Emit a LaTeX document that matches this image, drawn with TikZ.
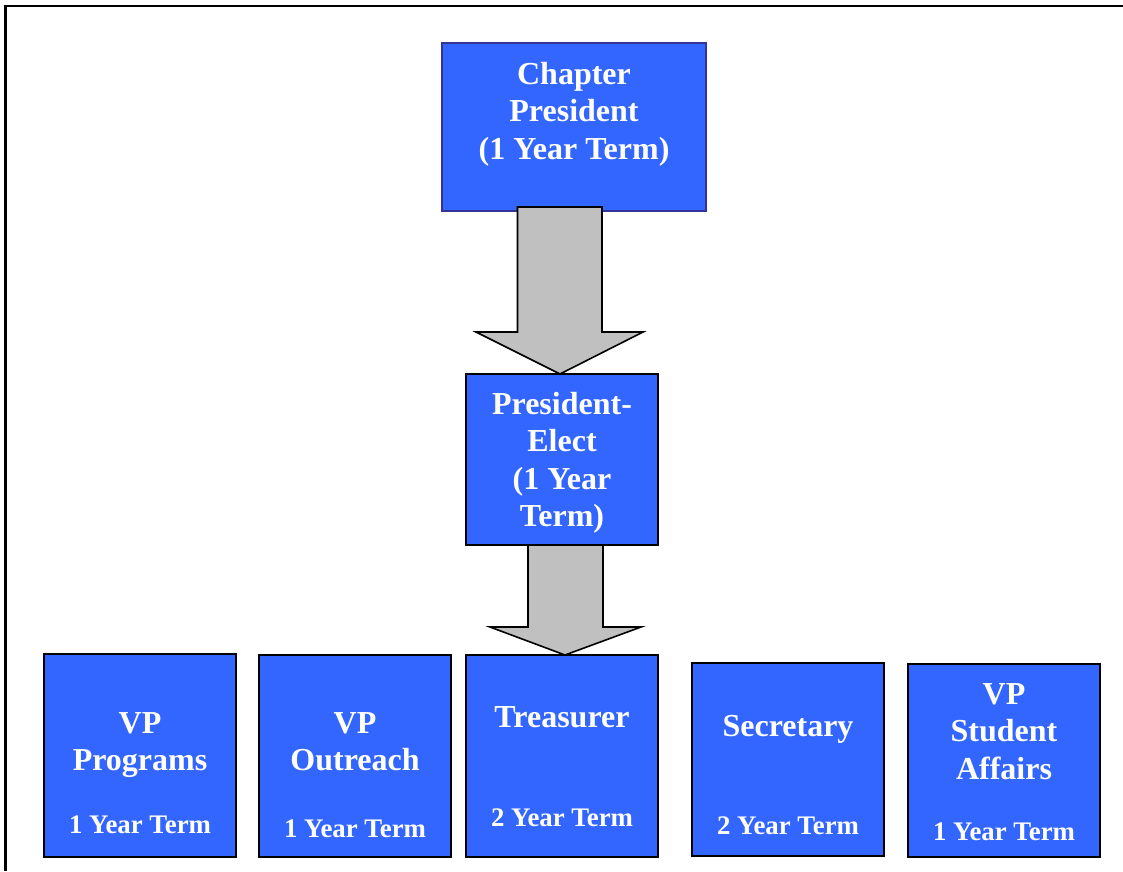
\documentclass[tikz,border=0pt]{standalone}
\usepackage{fontspec}
\setmainfont{Liberation Serif}
\usepackage{tikz}
\usetikzlibrary{positioning}
\definecolor{boxblue}{RGB}{51,102,255}
\definecolor{edgeblue}{RGB}{51,51,153}
\definecolor{arrowgray}{RGB}{192,192,192}

\begin{document}
\begin{tikzpicture}[x=1pt,y=-1pt,
  office/.style={rectangle, draw=black, line width=1.6pt, fill=boxblue,
    minimum width=192pt, outer sep=0pt, inner sep=0pt},
  title/.style={text=white, font=\bfseries\fontsize{32}{37.5}\selectfont,
    align=center, anchor=north, inner sep=0pt},
  term/.style={text=white, font=\bfseries\fontsize{26.8}{30}\selectfont,
    anchor=base, inner sep=0pt},
  blockarrow/.style={draw=black, line width=1.6pt, fill=arrowgray, line join=miter}]
        \useasboundingbox (0,0) rectangle (1123,871);
        \draw [line width=2.6pt] (5.5,871) -- (5.5,6) -- (1123,6);

        \node [office, draw=edgeblue, minimum width=264pt, minimum height=168pt] (pres) at (574,127) {};
        \node [title] (presT) at ([yshift=-19pt]pres.north) {Chapter\\President\\(1 Year Term)};

        \node [office, minimum height=171pt] (elect) at (562,459.5) {};
        \node [title] (electT) at ([yshift=-18pt]elect.north) {President-\\Elect\\(1 Year\\Term)};

        \node [office, minimum height=203pt] (prog) at (140,755.5) {};
        \node [title] (progT) at ([yshift=-58pt]prog.north) {VP\\Programs};
        \node [term] (progY) at ([yshift=24pt]prog.south) {1 Year Term};

        \node [office, minimum height=202pt] (outr) at (355,756) {};
        \node [title] (outrT) at ([yshift=-57pt]outr.north) {VP\\Outreach};
        \node [term] (outrY) at ([yshift=20pt]outr.south) {1 Year Term};

        \node [office, minimum height=202pt] (treas) at (562,756) {};
        \node [title] (treasT) at ([yshift=-51pt]treas.north) {Treasurer};
        \node [term] (treasY) at ([yshift=31pt]treas.south) {2 Year Term};

        \node [office, minimum height=193pt] (secr) at (788,759.5) {};
        \node [title] (secrT) at ([yshift=-52pt]secr.north) {Secretary};
        \node [term] (secrY) at ([yshift=22pt]secr.south) {2 Year Term};

        \node [office, minimum height=193pt] (stud) at (1004,760.5) {};
        \node [title] (studT) at ([yshift=-19pt]stud.north) {VP\\Student\\Affairs};
        \node [term] (studY) at ([yshift=17pt]stud.south) {1 Year Term};

        \draw [blockarrow] ([xshift=-44.5pt,yshift=4pt]elect.north |- pres.south)
          -- ([xshift=-44.5pt,yshift=42pt]elect.north) -- ([xshift=-86pt,yshift=42pt]elect.north)
          -- ([xshift=-2pt]elect.north) -- ([xshift=81pt,yshift=42pt]elect.north)
          -- ([xshift=40pt,yshift=42pt]elect.north) -- ([xshift=40pt,yshift=4pt]elect.north |- pres.south)
          -- cycle;
        \draw [blockarrow] ([xshift=-34pt]treas.north |- elect.south)
          -- ([xshift=-34pt,yshift=28pt]treas.north) -- ([xshift=-72pt,yshift=28pt]treas.north)
          -- ([xshift=3pt]treas.north) -- ([xshift=79pt,yshift=28pt]treas.north)
          -- ([xshift=41pt,yshift=28pt]treas.north) -- ([xshift=41pt]treas.north |- elect.south)
          -- cycle;
    \end{tikzpicture}
\end{document}
